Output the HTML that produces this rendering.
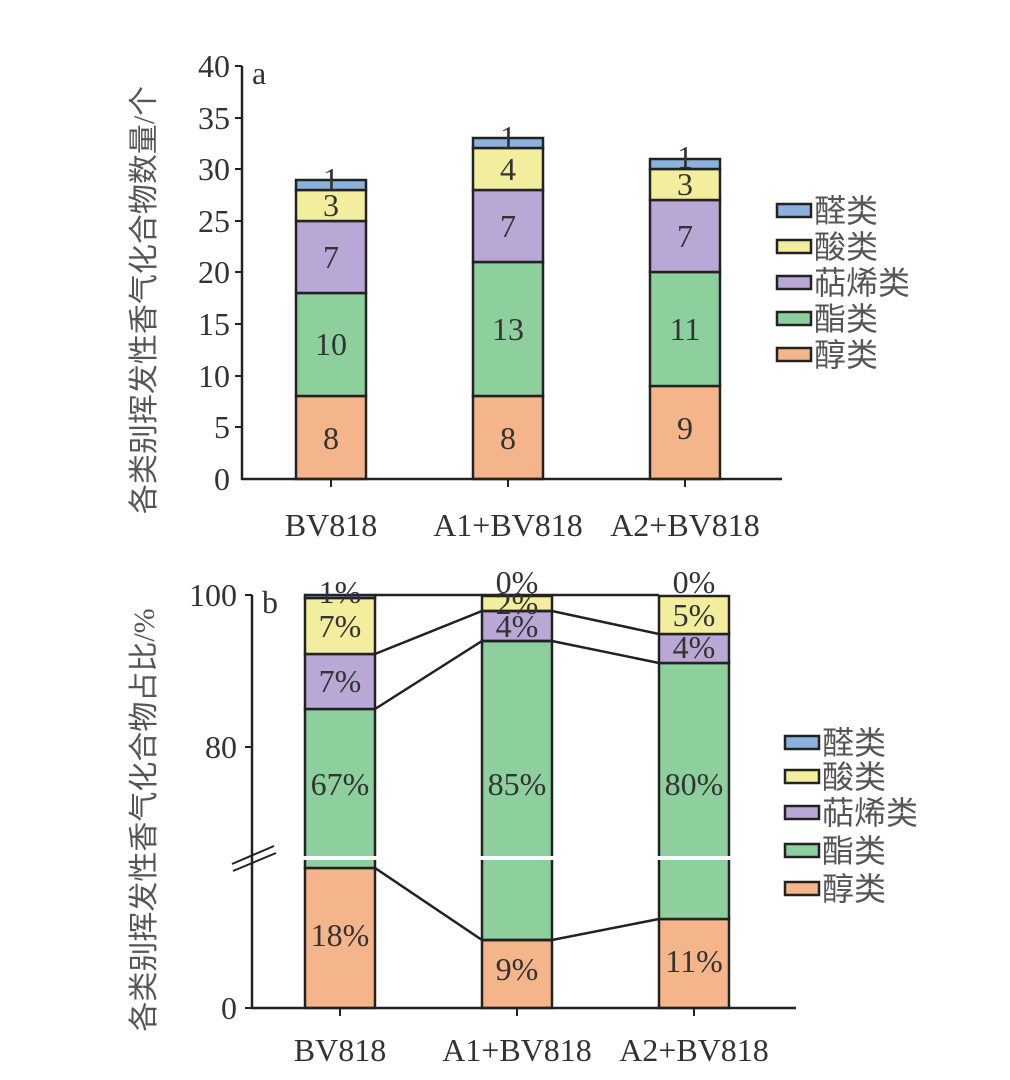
<!DOCTYPE html>
<html><head><meta charset="utf-8"><style>
html,body{margin:0;padding:0;background:#fff;}
svg{display:block;}
text{font-family:"Liberation Serif","Noto Serif CJK SC",serif;fill:#333;}
.cj{font-family:"Liberation Serif","Noto Sans CJK SC",sans-serif;fill:#555;}
</style></head><body>
<svg width="1010" height="1080" viewBox="0 0 1010 1080" xmlns="http://www.w3.org/2000/svg">
<g stroke="#222" stroke-width="2.5">
<rect x="296" y="396" width="70" height="83" fill="#f5b58a"/>
<rect x="296" y="293" width="70" height="103" fill="#8dd09e"/>
<rect x="296" y="221" width="70" height="72" fill="#b9a8d6"/>
<rect x="296" y="190" width="70" height="31" fill="#f3ee9e"/>
<rect x="296" y="180" width="70" height="10" fill="#8bb1dd"/>
<rect x="473" y="396" width="70" height="83" fill="#f5b58a"/>
<rect x="473" y="262" width="70" height="134" fill="#8dd09e"/>
<rect x="473" y="190" width="70" height="72" fill="#b9a8d6"/>
<rect x="473" y="148" width="70" height="42" fill="#f3ee9e"/>
<rect x="473" y="138" width="70" height="10" fill="#8bb1dd"/>
<rect x="650" y="386" width="70" height="93" fill="#f5b58a"/>
<rect x="650" y="272" width="70" height="114" fill="#8dd09e"/>
<rect x="650" y="200" width="70" height="72" fill="#b9a8d6"/>
<rect x="650" y="169" width="70" height="31" fill="#f3ee9e"/>
<rect x="650" y="159" width="70" height="10" fill="#8bb1dd"/>
<line x1="242" y1="66" x2="242" y2="480"/>
<line x1="241" y1="479" x2="782" y2="479"/>
</g>
<g stroke="#222" stroke-width="2">
<line x1="235" y1="66" x2="242" y2="66"/><line x1="235" y1="118" x2="242" y2="118"/>
<line x1="235" y1="169" x2="242" y2="169"/><line x1="235" y1="221" x2="242" y2="221"/>
<line x1="235" y1="272" x2="242" y2="272"/><line x1="235" y1="324" x2="242" y2="324"/>
<line x1="235" y1="376" x2="242" y2="376"/><line x1="235" y1="427" x2="242" y2="427"/>
<line x1="331" y1="479" x2="331" y2="487"/><line x1="508" y1="479" x2="508" y2="487"/><line x1="685" y1="479" x2="685" y2="487"/>
</g>
<g font-size="32" text-anchor="end">
<text x="230" y="77">40</text><text x="230" y="129">35</text><text x="230" y="180">30</text>
<text x="230" y="232">25</text><text x="230" y="283">20</text><text x="230" y="335">15</text>
<text x="230" y="387">10</text><text x="230" y="438">5</text><text x="230" y="490">0</text>
</g>
<text x="252" y="84" font-size="32">a</text>
<g font-size="32" text-anchor="middle">
<text x="331" y="449">8</text><text x="331" y="355">10</text><text x="331" y="268">7</text><text x="331" y="216">3</text><text x="331" y="190">1</text>
<text x="508" y="449">8</text><text x="508" y="340">13</text><text x="508" y="237">7</text><text x="508" y="180">4</text><text x="508" y="148">1</text>
<text x="685" y="439">9</text><text x="685" y="340">11</text><text x="685" y="247">7</text><text x="685" y="195">3</text><text x="685" y="168">1</text>
<text x="331" y="536">BV818</text><text x="508" y="536">A1+BV818</text><text x="685" y="536">A2+BV818</text>
</g>
<text class="cj" font-size="30" text-anchor="middle" transform="translate(154,300) rotate(-90)">各类别挥发性香气化合物数量/个</text>
<g stroke="#222" stroke-width="2.5">
<rect x="777" y="204" width="34" height="13" fill="#8bb1dd"/>
<rect x="777" y="240" width="34" height="13" fill="#f3ee9e"/>
<rect x="777" y="276" width="34" height="13" fill="#b9a8d6"/>
<rect x="777" y="312" width="34" height="13" fill="#8dd09e"/>
<rect x="777" y="348" width="34" height="13" fill="#f5b58a"/>
</g>
<g font-size="32">
<text class="cj" x="814" y="222">醛类</text><text class="cj" x="814" y="258">酸类</text>
<text class="cj" x="814" y="294">萜烯类</text><text class="cj" x="814" y="330">酯类</text><text class="cj" x="814" y="366">醇类</text>
</g>

<g stroke="#222" stroke-width="2.5">
<rect x="305" y="868" width="70" height="140" fill="#f5b58a"/>
<rect x="305" y="709" width="70" height="159" fill="#8dd09e"/>
<rect x="305" y="654" width="70" height="55" fill="#b9a8d6"/>
<rect x="305" y="598" width="70" height="56" fill="#f3ee9e"/>
<rect x="305" y="595" width="70" height="3" fill="#8bb1dd"/>
<rect x="482" y="940" width="70" height="68" fill="#f5b58a"/>
<rect x="482" y="641" width="70" height="299" fill="#8dd09e"/>
<rect x="482" y="611" width="70" height="30" fill="#b9a8d6"/>
<rect x="482" y="596" width="70" height="15" fill="#f3ee9e"/>
<rect x="659" y="919" width="70" height="89" fill="#f5b58a"/>
<rect x="659" y="663" width="70" height="256" fill="#8dd09e"/>
<rect x="659" y="634" width="70" height="29" fill="#b9a8d6"/>
<rect x="659" y="596" width="70" height="38" fill="#f3ee9e"/>
<line x1="375" y1="595" x2="659" y2="595"/>
<polyline fill="none" points="375,654 482,611 552,611 659,634"/>
<polyline fill="none" points="375,709 482,641 552,641 659,663"/>
<polyline fill="none" points="375,868 482,940 552,940 659,919"/>
<line x1="252" y1="595" x2="252" y2="1009"/>
<line x1="251" y1="1008" x2="796" y2="1008"/>
</g>
<g stroke="#fff" stroke-width="4">
<line x1="303" y1="858" x2="377" y2="858"/><line x1="480" y1="858" x2="554" y2="858"/><line x1="657" y1="858" x2="731" y2="858"/>
</g>
<g stroke="#222" stroke-width="2">
<line x1="245" y1="595" x2="252" y2="595"/><line x1="245" y1="747" x2="252" y2="747"/><line x1="245" y1="1008" x2="252" y2="1008"/>
<line x1="340" y1="1008" x2="340" y2="1016"/><line x1="517" y1="1008" x2="517" y2="1016"/><line x1="694" y1="1008" x2="694" y2="1016"/>
<line x1="232" y1="864" x2="274" y2="846"/><line x1="233" y1="871" x2="276" y2="853"/>
</g>
<g font-size="32" text-anchor="end">
<text x="237" y="606">100</text><text x="237" y="758">80</text><text x="237" y="1019">0</text>
</g>
<text x="262" y="613" font-size="32">b</text>
<g font-size="32" text-anchor="middle">
<text x="340" y="603">1%</text><text x="340" y="637">7%</text><text x="340" y="692">7%</text><text x="340" y="795">67%</text><text x="340" y="946">18%</text>
<text x="517" y="593">0%</text><text x="517" y="614">2%</text><text x="517" y="637">4%</text><text x="517" y="795">85%</text><text x="517" y="980">9%</text>
<text x="694" y="593">0%</text><text x="694" y="626">5%</text><text x="694" y="658">4%</text><text x="694" y="795">80%</text><text x="694" y="972">11%</text>
<text x="340" y="1061">BV818</text><text x="517" y="1061">A1+BV818</text><text x="694" y="1061">A2+BV818</text>
</g>
<text class="cj" font-size="30" text-anchor="middle" transform="translate(154,820) rotate(-90)">各类别挥发性香气化合物占比/%</text>
<g stroke="#222" stroke-width="2.5">
<rect x="785" y="736" width="34" height="13" fill="#8bb1dd"/>
<rect x="785" y="770" width="34" height="13" fill="#f3ee9e"/>
<rect x="785" y="806" width="34" height="13" fill="#b9a8d6"/>
<rect x="785" y="844" width="34" height="13" fill="#8dd09e"/>
<rect x="785" y="882" width="34" height="13" fill="#f5b58a"/>
</g>
<g font-size="32">
<text class="cj" x="822" y="754">醛类</text><text class="cj" x="822" y="788">酸类</text>
<text class="cj" x="822" y="824">萜烯类</text><text class="cj" x="822" y="862">酯类</text><text class="cj" x="822" y="900">醇类</text>
</g>
</svg>
</body></html>
